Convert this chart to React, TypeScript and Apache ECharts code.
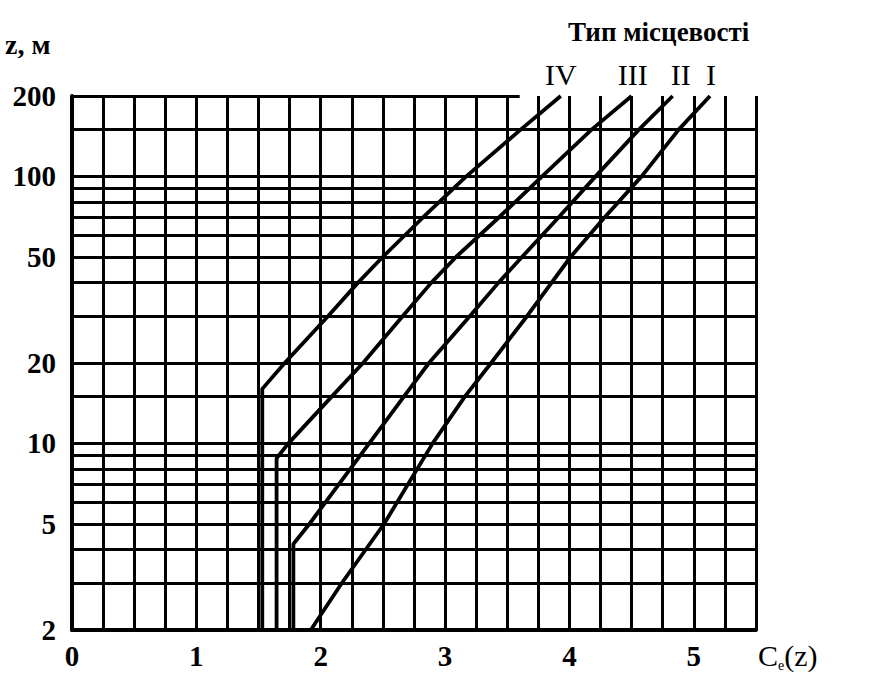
import React, { useEffect, useRef } from "react";
import * as echarts from "echarts";

// Curve data: Cₑ(z) value (x) against height z (y, metres) for terrain types I–IV
const curveI_x = [1.92, 2.17, 2.51, 2.90, 3.16, 3.37, 3.66, 4.01, 4.28, 4.58, 4.88, 5.13];
const curveI_z = [2, 3, 5, 10, 15, 20, 30, 50, 70, 100, 150, 200];

const curveII_x = [1.78, 1.78, 1.91, 2.39, 2.67, 2.87, 3.20, 3.43, 3.62, 3.91, 4.21, 4.56, 4.83];
const curveII_z = [2, 4.2, 5, 10, 15, 20, 30, 40, 50, 70, 100, 150, 200];

const curveIII_x = [1.645, 1.645, 1.74, 2.09, 2.34, 2.66, 2.89, 3.09, 3.43, 3.78, 4.18, 4.5];
const curveIII_z = [2, 8.8, 10, 15, 20, 30, 40, 50, 70, 100, 150, 200];

const curveIV_x = [1.53, 1.53, 1.71, 2.06, 2.30, 2.50, 2.82, 3.17, 3.61, 3.93];
const curveIV_z = [2, 16, 20, 30, 40, 50, 70, 100, 150, 200];

const curveNames = ["I", "II", "III", "IV"];

// Horizontal grid lines (z values) and which of them carry labels
const zGridLines = [2, 3, 4, 5, 6, 7, 8, 9, 10, 15, 20, 30, 40, 50, 60, 70, 80, 90, 100, 150];
const zLabels = [2, 5, 10, 20, 50, 100, 200];

const FONT = "Liberation Serif";

export default function App() {
  const ref = useRef<HTMLDivElement>(null);

  useEffect(() => {
    if (!ref.current) return;
    const chart = echarts.init(ref.current, undefined, { renderer: "svg" });

    const curves = [
      { x: curveI_x, z: curveI_z, offset: [1, 0] },
      { x: curveII_x, z: curveII_z, offset: [8, 0] },
      { x: curveIII_x, z: curveIII_z, offset: [1, 0] },
      { x: curveIV_x, z: curveIV_z, offset: [0, 0] },
    ];

    const gridLineData: any[] = zGridLines.map((v) => ({
      yAxis: v,
      label: {
        show: zLabels.includes(v),
        formatter: String(v),
      },
    }));
    gridLineData.push([
      { coord: [0, 200], label: { show: true, formatter: "200" } },
      { coord: [3.6, 200] },
    ]);

    const series: any[] = curves.map((c, i) => {
      const last = c.x.length - 1;
      const s: any = {
        name: curveNames[i],
        type: "line",
        data: c.x.map((xv, k) => [xv, c.z[k]]),
        symbol: "none",
        lineStyle: { color: "#000", width: 3.8 },
        markPoint: {
          symbol: "circle",
          symbolSize: 1,
          itemStyle: { color: "rgba(0,0,0,0)" },
          data: [
            {
              coord: [c.x[last], c.z[last]],
              label: {
                show: true,
                position: "top",
                distance: 6,
                offset: c.offset,
                formatter: curveNames[i],
                color: "#000",
                fontFamily: FONT,
                fontSize: 30,
              },
            },
          ],
        },
      };
      if (i === 0) {
        s.markLine = {
          silent: true,
          symbol: ["none", "none"],
          animation: false,
          lineStyle: { color: "#000", width: 3, type: "solid" },
          label: {
            position: "start",
            distance: 16,
            color: "#000",
            fontFamily: FONT,
            fontWeight: "bold",
            fontSize: 29,
          },
          data: gridLineData,
        };
      }
      return s;
    });

    const option: any = {
      animation: false,
      backgroundColor: "#fff",
      title: {
        text: "Тип місцевості",
        left: 563,
        top: 13,
        textStyle: {
          fontFamily: FONT,
          fontWeight: "bold",
          fontSize: 27,
          color: "#000",
        },
      },
      graphic: [
        {
          type: "text",
          left: 5,
          top: 30,
          style: {
            text: "z, м",
            font: `bold 28px "${FONT}"`,
            fill: "#000",
          },
        },
      ],
      grid: { left: 72, right: 130, top: 96, bottom: 46 },
      xAxis: {
        type: "value",
        min: 0,
        max: 5.5,
        interval: 0.25,
        axisLine: { show: true, onZero: false, lineStyle: { color: "#000", width: 4 } },
        axisTick: { show: false },
        splitLine: { show: true, lineStyle: { color: "#000", width: 3 } },
        axisLabel: {
          color: "#000",
          fontFamily: FONT,
          fontWeight: "bold",
          fontSize: 29,
          margin: 11,
          formatter: (v: number) =>
            Math.abs(v - Math.round(v)) < 1e-6 ? String(Math.round(v)) : "",
        },
        name: "{a|C}{s|e}{a|(z)}",
        nameLocation: "end",
        nameGap: 2,
        nameTextStyle: {
          align: "left",
          verticalAlign: "top",
          padding: [8, 0, 0, 0],
          rich: {
            a: { fontFamily: FONT, fontSize: 30, color: "#000" },
            s: { fontFamily: FONT, fontSize: 14, color: "#000", padding: [20, 0, 0, 0] },
          },
        },
      },
      yAxis: {
        type: "log",
        logBase: 10,
        min: 2,
        max: 200,
        axisLine: { show: true, onZero: false, lineStyle: { color: "#000", width: 4 } },
        axisTick: { show: false },
        axisLabel: { show: false },
        splitLine: { show: false },
      },
      series,
    };

    chart.setOption(option);
    return () => chart.dispose();
  }, []);

  return (
    <div
      ref={ref}
      style={{ position: "absolute", left: 0, top: 0, width: 886, height: 676 }}
    />
  );
}
